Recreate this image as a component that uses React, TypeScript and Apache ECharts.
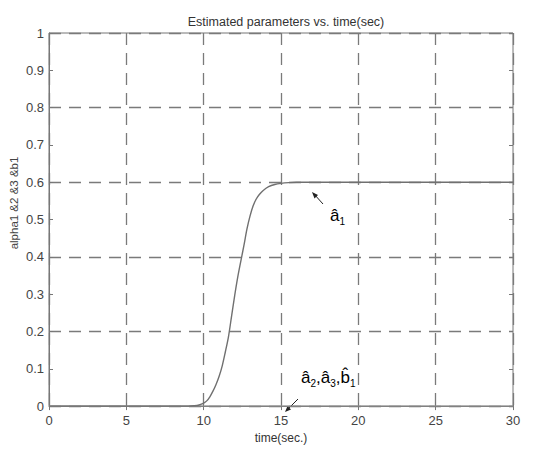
import React, { useEffect, useRef } from "react";
import * as echarts from "echarts";

const timeSec = [0, 3, 6, 9, 9.4, 9.7, 10, 10.2, 10.4, 10.6, 10.8, 11, 11.2, 11.4, 11.6, 11.8, 12, 12.2, 12.4, 12.6, 12.8, 13, 13.2, 13.4, 13.6, 13.85, 14.2, 14.6, 15, 15.5, 16, 17, 20, 25, 30];
const a1Values = [0, 0, 0, 0, 0.001, 0.003, 0.008, 0.014, 0.025, 0.04, 0.058, 0.08, 0.108, 0.145, 0.185, 0.24, 0.295, 0.345, 0.388, 0.43, 0.475, 0.51, 0.537, 0.555, 0.567, 0.578, 0.588, 0.594, 0.597, 0.599, 0.6, 0.6, 0.6, 0.6, 0.6];
const a2Time = [0, 10, 20, 30];
const a2Values = [0, 0, 0, 0];
const xTicks = { min: 0, max: 30, interval: 5 };
const yTicks = { min: 0, max: 1, interval: 0.1, gridInterval: 0.2 };

const FONT = "Liberation Sans, Arial, sans-serif";
const GRID_COLOR = "#7a7a7a";
const DASH = [12, 8];

export default function App() {
  const ref = useRef<HTMLDivElement>(null);
  useEffect(() => {
    if (!ref.current) return;
    const chart = echarts.init(ref.current, null, { renderer: "svg" });
    const rich = {
      a: { fontFamily: FONT, fontSize: 17, lineHeight: 22, verticalAlign: "middle", color: "#333" },
      s: { fontFamily: FONT, fontSize: 10, lineHeight: 8, verticalAlign: "bottom", color: "#333" },
    };
    chart.setOption({
      animation: false,
      backgroundColor: "#fff",
      title: {
        text: "Estimated parameters vs. time(sec)",
        left: 281,
        textAlign: "center",
        top: 10,
        textStyle: { fontFamily: FONT, fontSize: 12.5, fontWeight: "normal", color: "#333" },
      },
      grid: { left: 49, right: 31, top: 33, bottom: 35, show: true, borderColor: "#777", borderWidth: 1, backgroundColor: "transparent" },
      xAxis: [
        {
          type: "value",
          min: xTicks.min,
          max: xTicks.max,
          interval: xTicks.interval,
          name: "time(sec.)",
          nameLocation: "middle",
          nameGap: 22,
          nameTextStyle: { fontFamily: FONT, fontSize: 12, color: "#333" },
          axisLine: { show: true, lineStyle: { color: "#777" } },
          axisTick: { show: true, inside: true, length: 4, lineStyle: { color: "#777" } },
          axisLabel: { fontFamily: FONT, fontSize: 13, color: "#444", margin: 8 },
          splitLine: { show: true, lineStyle: { color: GRID_COLOR, type: DASH, width: 1.3 } },
        },
        {
          type: "value",
          position: "top",
          min: xTicks.min,
          max: xTicks.max,
          interval: xTicks.interval,
          axisLine: { show: false },
          axisTick: { show: true, inside: true, length: 4, lineStyle: { color: "#777" } },
          axisLabel: { show: false },
          splitLine: { show: false },
        },
      ],
      yAxis: [
        {
          type: "value",
          min: yTicks.min,
          max: yTicks.max,
          interval: yTicks.interval,
          axisLine: { show: true, lineStyle: { color: "#777" } },
          axisTick: { show: true, inside: true, length: 4, lineStyle: { color: "#777" } },
          axisLabel: { fontFamily: FONT, fontSize: 13, color: "#444", margin: 5 },
          splitLine: { show: false },
        },
        {
          type: "value",
          position: "left",
          min: yTicks.min,
          max: yTicks.max,
          interval: yTicks.gridInterval,
          axisLine: { show: false },
          axisTick: { show: false },
          axisLabel: { show: false },
          splitLine: { show: true, lineStyle: { color: GRID_COLOR, type: DASH, width: 1.3 } },
        },
        {
          type: "value",
          position: "right",
          min: yTicks.min,
          max: yTicks.max,
          interval: yTicks.interval,
          axisLine: { show: false },
          axisTick: { show: true, inside: true, length: 4, lineStyle: { color: "#777" } },
          axisLabel: { show: false },
          splitLine: { show: false },
        },
      ],
      series: [
        {
          type: "line",
          data: a2Time.map((t, i) => [t, a2Values[i]]),
          showSymbol: false,
          lineStyle: { color: "#999", width: 1 },
          z: 3,
        },
        {
          type: "line",
          data: timeSec.map((t, i) => [t, a1Values[i]]),
          smooth: 0.3,
          showSymbol: false,
          lineStyle: { color: "#707070", width: 1.4 },
          z: 4,
        },
      ],
      graphic: [
        {
          type: "text",
          x: 14,
          y: 203,
          rotation: Math.PI / 2,
          style: { text: "alpha1 &2 &3 &b1", font: `11.5px ${FONT}`, fill: "#444", textAlign: "center", textVerticalAlign: "middle" },
        },
        // a1 annotation
        { type: "line", shape: { x1: 323, y1: 204, x2: 314, y2: 194 }, style: { stroke: "#222", lineWidth: 1 } },
        { type: "polygon", shape: { points: [[312, 192], [318, 195], [314.5, 198.5]] }, style: { fill: "#222" } },
        {
          type: "text",
          x: 330,
          y: 204,
          style: { text: "{a|\u00e2}{s|1}", rich, textAlign: "left", textVerticalAlign: "top" },
        },
        // a2,a3,b1 annotation
        { type: "line", shape: { x1: 298, y1: 399, x2: 288, y2: 409 }, style: { stroke: "#222", lineWidth: 1 } },
        { type: "polygon", shape: { points: [[285, 412], [291, 409.5], [287.5, 406]] }, style: { fill: "#222" } },
        {
          type: "text",
          x: 301,
          y: 366,
          style: { text: "{a|\u00e2}{s|2}{a|,\u00e2}{s|3}{a|,b\u0302}{s|1}", rich, textAlign: "left", textVerticalAlign: "top" },
        },
      ],
    });
    return () => chart.dispose();
  }, []);
  return <div ref={ref} style={{ width: 544, height: 449, position: "absolute", left: 0, top: 0 }} />;
}
